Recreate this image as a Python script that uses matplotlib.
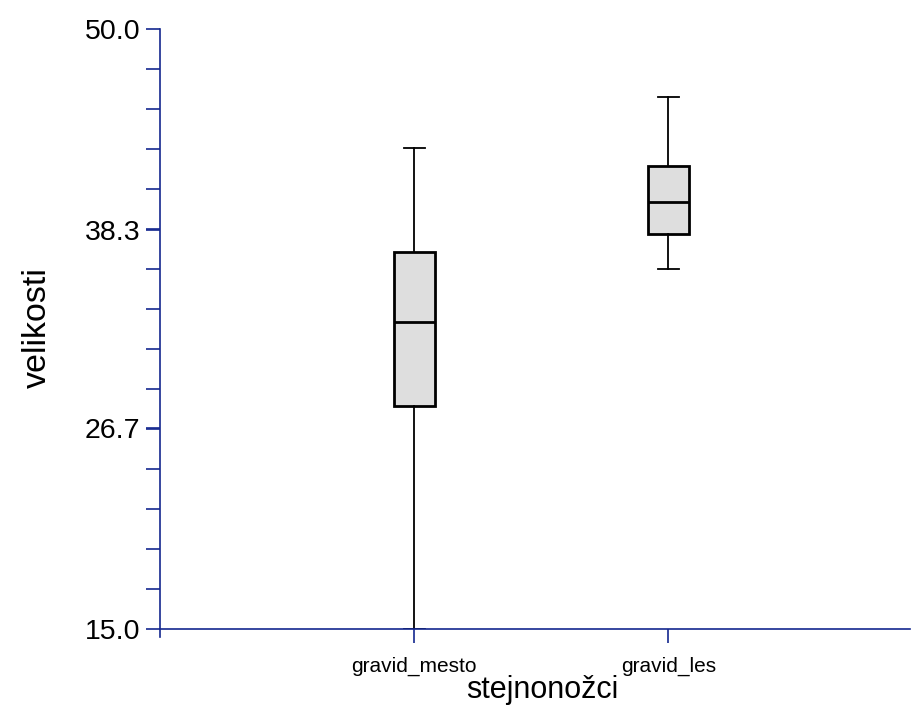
import numpy as np
import matplotlib
matplotlib.use("Agg")
import matplotlib.pyplot as plt
from matplotlib.ticker import FixedLocator

plt.rcParams["font.family"] = ["Liberation Sans", "DejaVu Sans"]

# Box statistics
groups = ["gravid_mesto", "gravid_les"]
whisker_low = [15.0, 36.0]
q1 = [28.0, 38.05]
median = [32.9, 39.9]
q3 = [37.0, 42.0]
whisker_high = [43.05, 46.05]

major_ticks = [15.0, 26.7, 38.3, 50.0]
major_labels = ["15.0", "26.7", "38.3", "50.0"]

AXIS_BLUE = "#14288f"

fig = plt.figure(figsize=(9.11, 7.09), dpi=100)
ax = fig.add_axes([160 / 911, 80 / 709, 750 / 911, 600 / 709])

stats = []
for i, name in enumerate(groups):
    stats.append({
        "label": name,
        "whislo": whisker_low[i],
        "q1": q1[i],
        "med": median[i],
        "q3": q3[i],
        "whishi": whisker_high[i],
        "fliers": [],
    })

positions = np.arange(1, len(groups) + 1)
ax.bxp(
    stats,
    positions=positions,
    widths=0.16,
    patch_artist=True,
    showfliers=False,
    boxprops=dict(facecolor="#dedede", edgecolor="black", linewidth=2.0),
    medianprops=dict(color="black", linewidth=2.0),
    whiskerprops=dict(color="black", linewidth=1.3),
    capprops=dict(color="black", linewidth=1.3),
    capwidths=0.083,
)

ax.set_xlim(0.0, 2.95)
ax.set_ylim(15.0, 50.0)

ax.yaxis.set_major_locator(FixedLocator(major_ticks))
ax.set_yticklabels(major_labels, fontsize=20.5)
minor = np.linspace(15.0, 50.0, 16)
ax.yaxis.set_minor_locator(FixedLocator(minor))

ax.set_xticks(positions)
ax.set_xticklabels(groups, fontsize=15)

for side in ["top", "right"]:
    ax.spines[side].set_visible(False)
for side in ["left", "bottom"]:
    ax.spines[side].set_color(AXIS_BLUE)
    ax.spines[side].set_linewidth(1.2)
ax.spines["left"].set_bounds(14.55, 50.0)

ax.tick_params(axis="both", which="both", direction="out", color=AXIS_BLUE,
               width=1.2, length=10)
ax.tick_params(axis="y", which="major", pad=4)
ax.tick_params(axis="x", which="major", pad=10)

fig.text(37 / 911, 1 - 328 / 709, "velikosti", rotation=90, fontsize=24.5,
         ha="center", va="center")
fig.text(542 / 911, 1 - 690 / 709, "stejnonožci", fontsize=22,
         ha="center", va="center")

fig.savefig("out.png", dpi=100)
